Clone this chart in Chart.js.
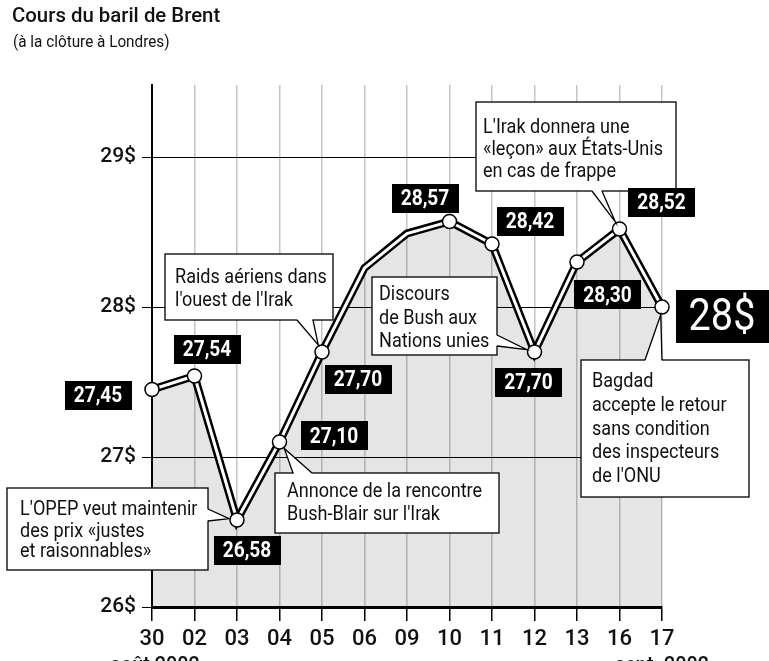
<!DOCTYPE html>
<html><head><meta charset="utf-8">
<script src="https://cdn.jsdelivr.net/npm/chart.js@4"></script>
<style>html,body{margin:0;padding:0;background:#fff;}#wrap{position:relative;width:769px;height:661px;overflow:hidden}canvas{display:block}</style>
</head><body><div id="wrap"><canvas id="c" width="769" height="661"></canvas></div>
<script>
// ---- data ----
const days = ['30','02','03','04','05','06','09','10','11','12','13','16','17'];
const closes = [27.45, 27.54, 26.58, 27.10, 27.70, 28.26, 28.49, 28.57, 28.42, 27.70, 28.30, 28.52, 28.00];
const valueLabels = ['27,45','27,54','26,58','27,10','27,70','','','28,57','28,42','27,70','28,30','28,52','28$'];
const hasMarker = [true,true,true,true,true,false,false,true,true,true,true,true,true];
const yTicks = [26, 27, 28, 29];
const yTickLabels = ['26$','27$','28$','29$'];
const monthLabels = ['août 2002', 'sept. 2002'];
const titleText = 'Cours du baril de Brent';
const subtitleText = '(à la clôture à Londres)';
const eventIndex = [4, 9, 11, 12, 2, 3];
const eventLines = [
  ['Raids aériens dans', "l'ouest de l'Irak"],
  ['Discours', 'de Bush aux', 'Nations unies'],
  ["L'Irak donnera une", '«leçon» aux États-Unis', 'en cas de frappe'],
  ['Bagdad', 'accepte le retour', 'sans condition', 'des inspecteurs', "de l'ONU"],
  ["L'OPEP veut maintenir", 'des prix «justes', 'et raisonnables»'],
  ['Annonce de la rencontre', "Bush-Blair sur l'Irak"]
];

// ---- layout (offsets from the data point, px) ----
const labelOffsets = [[-54,5.5],[12.5,-26.5],[10,30],[54.5,-6],[36,27],null,null,[-24.5,-23],[38,-22.5],[-6,30],[30.5,33],[42,-27],[60,9.5]];
const calloutLayout = [
  {box:[-157,-98,168,66], base:[[-25,-32],[-9,-32]], tx:10, ty:[29,52]},
  {box:[-162.5,-75,125,78], base:[[-37.5,-17],[-37.5,-6]], tx:7, ty:[23,46.5,70]},
  {box:[-143.5,-127,200,89], base:[[-27.5,-38],[-17.5,-38]], tx:7, ty:[31,53,75]},
  {box:[-81,53,168,137], base:[[-17,53],[0,53]], tx:11, ty:[27,51,75,98,122]},
  {box:[-230,-32,201,82], base:[[-29,-11],[-29,1]], tx:13, ty:[27,49,69]},
  {box:[-4.5,31,224,60], base:[[13.5,31],[32.5,31]], tx:12, ty:[24,47]}
];

const FF = 'Roboto, "DejaVu Sans Condensed", sans-serif';
Chart.defaults.font.family = FF;

function txt(ctx, t, x, y, sx, align) {
  ctx.save(); ctx.translate(x, y); ctx.scale(sx, 1); ctx.textAlign = align || 'left'; ctx.fillText(t, 0, 0); ctx.restore();
}

const annot = {
  id: 'annot',
  afterDatasetsDraw(chart) {
    const ctx = chart.ctx, xs = chart.scales.x, ys = chart.scales.y;
    ctx.save();
    // callouts
    eventIndex.forEach((idx, k) => {
      const L = calloutLayout[k];
      const px = xs.getPixelForValue(idx), py = ys.getPixelForValue(closes[idx]);
      const bx = px + L.box[0], by = py + L.box[1], bw = L.box[2], bh = L.box[3];
      const b1 = [px + L.base[0][0], py + L.base[0][1]], b2 = [px + L.base[1][0], py + L.base[1][1]];
      const mx = (b1[0] + b2[0]) / 2, my = (b1[1] + b2[1]) / 2;
      const dx = px - mx, dy = py - my, d = Math.hypot(dx, dy);
      const tip = [px - dx / d * 8, py - dy / d * 8];
      ctx.lineWidth = 1.3; ctx.strokeStyle = '#000'; ctx.fillStyle = '#fff';
      ctx.fillRect(bx, by, bw, bh);
      ctx.strokeRect(bx, by, bw, bh);
      const ix = -dx / d * 2, iy = -dy / d * 2;
      ctx.beginPath();
      ctx.moveTo(b1[0] + ix, b1[1] + iy); ctx.lineTo(tip[0], tip[1]); ctx.lineTo(b2[0] + ix, b2[1] + iy); ctx.closePath();
      ctx.fill();
      ctx.beginPath();
      ctx.moveTo(b1[0], b1[1]); ctx.lineTo(tip[0], tip[1]); ctx.lineTo(b2[0], b2[1]);
      ctx.stroke();
      ctx.fillStyle = '#111'; ctx.font = '21px ' + FF; ctx.textBaseline = 'alphabetic';
      eventLines[k].forEach((t, j) => txt(ctx, t, bx + L.tx, by + L.ty[j], 0.86, 'left'));
    });
    // value labels
    valueLabels.forEach((t, i) => {
      if (!t) return;
      const px = xs.getPixelForValue(i), py = ys.getPixelForValue(closes[i]);
      const o = labelOffsets[i];
      const cx = px + o[0], cy = py + o[1];
      const big = i === closes.length - 1;
      const sx = big ? 0.9 : 0.87;
      ctx.font = big ? '44px ' + FF : 'bold 22px ' + FF;
      const w = ctx.measureText(t).width * sx + (big ? 26 : 18), h = big ? 53 : 29;
      ctx.fillStyle = '#000';
      ctx.fillRect(Math.round(cx - w / 2), Math.round(cy - h / 2), Math.round(w), h);
      ctx.fillStyle = '#fff'; ctx.textBaseline = 'middle';
      txt(ctx, t, cx, cy + (big ? 2 : 1), sx, 'center');
    });
    ctx.restore();
  },
  afterDraw(chart) {
    const ctx = chart.ctx, xs = chart.scales.x;
    ctx.save();
    ctx.fillStyle = '#111'; ctx.textBaseline = 'alphabetic';
    ctx.font = '500 21px ' + FF; txt(ctx, titleText, 12, 22, 0.97, 'left');
    ctx.font = '17px ' + FF; txt(ctx, subtitleText, 13, 47, 0.9, 'left');
    ctx.font = '500 22px ' + FF;
    txt(ctx, monthLabels[0], xs.getPixelForValue(0) + 3, 672, 0.9, 'center');
    txt(ctx, monthLabels[1], xs.getPixelForValue(days.length - 1), 672, 0.9, 'center');
    ctx.restore();
  }
};

new Chart(document.getElementById('c'), {
  type: 'line',
  data: {
    labels: days,
    datasets: [
      { // inner white line + markers (drawn on top)
        data: closes, borderColor: '#fff', borderWidth: 3, fill: false, tension: 0, clip: false,
        pointRadius: ctx => hasMarker[ctx.dataIndex] ? 7 : 0,
        pointBackgroundColor: '#fff', pointBorderColor: '#000', pointBorderWidth: 1.5
      },
      { // outer black line with area fill
        data: closes, borderColor: '#000', borderWidth: 8, fill: 'start', backgroundColor: 'rgba(0,0,0,0.1)',
        tension: 0, clip: false, pointRadius: 0
      }
    ]
  },
  options: {
    responsive: false, animation: false, devicePixelRatio: 1,
    layout: { padding: { left: 0, right: 107, top: 85, bottom: 0 } },
    plugins: { legend: { display: false }, tooltip: { enabled: false }, title: { display: false } },
    scales: {
      x: {
        type: 'category', offset: false,
        grid: { color: '#c4c4c4', lineWidth: 1.5, tickColor: '#000', tickLength: 14, tickWidth: 1.5 },
        border: { color: '#000', width: 3 },
        ticks: { color: '#111', font: { size: 22, weight: '500' }, padding: 5, maxRotation: 0, autoSkip: false },
        afterFit: s => { s.height = 54; }
      },
      y: {
        min: 26, max: 29.48,
        afterBuildTicks: s => { s.ticks = yTicks.map(v => ({ value: v })); },
        grid: { color: '#000', lineWidth: 1, tickColor: '#000', tickLength: 10 },
        border: { color: '#000', width: 2 },
        ticks: { color: '#111', font: { size: 21, weight: '500' }, padding: 6, callback: (v, i) => yTickLabels[yTicks.indexOf(v)] },
        afterFit: s => { s.width = 152; }
      }
    }
  },
  plugins: [annot]
});
</script></body></html>
